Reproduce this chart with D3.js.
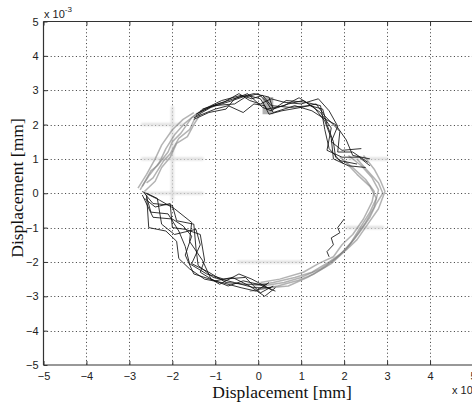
<!DOCTYPE html>
<html>
<head>
<meta charset="utf-8">
<script src="https://cdn.jsdelivr.net/npm/d3@7"></script>
<style>
  body { margin: 0; background: #fff; }
  svg { display: block; }
</style>
</head>
<body>
<svg id="chart" width="472" height="404"></svg>
<script>
// Tick values (axis units are 10^-3 mm)
const xTicks = [-5, -4, -3, -2, -1, 0, 1, 2, 3, 4, 5];
const yTicks = [-5, -4, -3, -2, -1, 0, 1, 2, 3, 4, 5];
const xLabel = "Displacement [mm]";
const yLabel = "Displacement [mm]";
const exponent = "-3";

// Upper arc of the orbit, recorded runs (black)
const upperTraces = [
  [[-1.45,2.25],[-1.1,2.5],[-0.6,2.7],[-0.25,2.85],[0.05,2.75],[0.2,2.45],[0.6,2.55],[0.95,2.78],[1.3,2.5],[1.55,2.1],[1.7,1.6],[1.75,1.0],[2.1,0.8],[2.5,0.75]],
  [[-1.4,2.35],[-0.95,2.6],[-0.5,2.78],[-0.1,2.9],[0.25,2.8],[0.35,2.45],[0.7,2.6],[1.05,2.7],[1.45,2.35],[1.7,1.9],[1.6,1.25],[1.95,1.05],[2.35,1.05],[2.6,0.8]],
  [[-1.5,2.2],[-1.0,2.45],[-0.7,2.55],[-0.35,2.35],[-0.1,2.6],[0.15,2.55],[0.25,2.3],[0.55,2.4],[1.0,2.5],[1.35,2.6],[1.55,2.25],[1.9,1.8],[1.85,1.2],[2.2,1.2],[2.55,0.9]],
  [[-1.35,2.4],[-0.85,2.7],[-0.4,2.85],[-0.15,2.75],[0.1,2.85],[0.3,2.55],[0.75,2.5],[1.2,2.55],[1.5,2.45],[1.6,2.0],[1.75,1.5],[1.8,1.05],[2.0,0.85]],
  [[-1.45,2.3],[-1.05,2.55],[-0.55,2.6],[-0.3,2.8],[0.0,2.9],[0.2,2.65],[0.35,2.35],[0.85,2.55],[1.25,2.4],[1.5,2.2],[1.8,2.0],[2.05,1.55],[2.2,1.1],[2.6,1.0]],
  [[-1.3,2.45],[-0.8,2.65],[-0.45,2.9],[-0.2,2.7],[0.05,2.6],[0.3,2.75],[0.6,2.65],[1.0,2.6],[1.4,2.75],[1.65,2.4],[1.85,1.95],[1.7,1.5],[1.95,1.25],[2.4,1.3]],
  [[-1.5,2.15],[-1.15,2.35],[-0.75,2.45],[-0.55,2.75],[-0.25,2.9],[0.1,2.5],[0.3,2.4],[0.65,2.7],[1.1,2.65],[1.45,2.55],[1.55,1.85],[1.65,1.3],[1.9,0.95],[2.3,0.85]]
];

// Lower-left arc of the orbit, recorded runs (black)
const lowerTraces = [
  [[-2.65,0.0],[-2.45,-0.3],[-2.0,-0.35],[-1.9,-0.8],[-1.5,-0.9],[-1.45,-1.6],[-1.4,-2.1],[-1.05,-2.45],[-0.55,-2.6],[-0.1,-2.75],[0.3,-2.75]],
  [[-2.6,-0.1],[-2.5,-0.55],[-2.1,-0.6],[-1.85,-1.1],[-1.7,-1.55],[-1.6,-2.05],[-1.2,-2.35],[-0.8,-2.5],[-0.3,-2.45],[0.05,-2.9],[0.35,-2.7]],
  [[-2.7,0.05],[-2.3,-0.2],[-1.95,-0.45],[-1.55,-0.85],[-1.6,-1.4],[-1.3,-1.95],[-1.1,-2.5],[-0.7,-2.7],[-0.35,-2.55],[0.0,-2.65],[0.4,-2.85]],
  [[-2.6,-0.05],[-2.55,-1.0],[-2.15,-1.1],[-1.9,-1.4],[-1.85,-1.9],[-1.6,-2.2],[-1.25,-2.5],[-0.85,-2.6],[-0.4,-2.75],[-0.05,-2.85],[0.25,-2.6]],
  [[-2.65,-0.15],[-2.4,-0.4],[-2.05,-0.3],[-2.0,-1.0],[-1.7,-1.05],[-1.35,-1.2],[-1.25,-1.95],[-1.35,-2.3],[-0.9,-2.65],[-0.45,-2.35],[-0.15,-2.5],[0.3,-2.8]],
  [[-2.7,-0.05],[-2.45,-0.7],[-2.0,-0.75],[-1.75,-0.95],[-1.55,-1.25],[-1.7,-1.8],[-1.5,-2.35],[-1.0,-2.55],[-0.6,-2.45],[-0.2,-2.7],[0.15,-3.0],[0.4,-2.75]],
  [[-2.6,0.0],[-2.35,-0.15],[-2.25,-0.9],[-1.95,-1.2],[-1.45,-1.05],[-1.35,-1.5],[-1.55,-2.05],[-1.15,-2.3],[-0.75,-2.6],[-0.3,-2.65],[0.2,-2.65]],
  [[2.0,-0.75],[1.85,-1.0],[1.9,-1.15],[1.7,-1.3],[1.75,-1.5],[1.6,-1.7],[1.65,-1.85]]
];

// Upper-left arc, reference runs (grey)
const leftTraces = [
  [[-2.7,0.2],[-2.55,0.5],[-2.3,0.9],[-2.15,1.3],[-1.95,1.7],[-1.7,2.05],[-1.4,2.35]],
  [[-2.75,0.1],[-2.5,0.65],[-2.35,0.8],[-2.1,1.2],[-2.0,1.5],[-1.8,1.75],[-1.55,2.2],[-1.3,2.4]],
  [[-2.6,0.3],[-2.45,0.45],[-2.2,0.95],[-2.05,1.15],[-1.85,1.6],[-1.6,1.85],[-1.45,2.25]],
  [[-2.8,0.15],[-2.6,0.55],[-2.4,1.0],[-2.25,1.4],[-2.0,1.85],[-1.75,2.15],[-1.5,2.35]],
  [[-2.65,0.05],[-2.4,0.35],[-2.25,0.75],[-2.05,1.05],[-1.9,1.45],[-1.65,1.65],[-1.5,2.0],[-1.35,2.3]]
];

// Right and lower-right arc, reference runs (grey)
const rightTraces = [
  [[2.1,1.1],[2.4,0.8],[2.65,0.45],[2.8,0.1],[2.7,-0.4],[2.5,-0.85],[2.25,-1.3],[2.0,-1.7],[1.7,-2.05],[1.3,-2.35],[0.9,-2.55],[0.45,-2.7],[0.0,-2.8]],
  [[2.3,1.0],[2.55,0.65],[2.8,0.3],[2.9,0.0],[2.75,-0.3],[2.6,-0.7],[2.35,-1.15],[2.1,-1.55],[1.8,-1.9],[1.45,-2.2],[1.0,-2.45],[0.6,-2.6],[0.1,-2.7]],
  [[2.0,0.95],[2.3,0.55],[2.6,0.2],[2.75,-0.15],[2.6,-0.55],[2.4,-0.95],[2.15,-1.45],[1.9,-1.8],[1.55,-2.15],[1.15,-2.45],[0.7,-2.7],[0.25,-2.75],[-0.2,-2.85]],
  [[2.45,1.1],[2.7,0.7],[2.85,0.35],[2.95,0.05],[2.8,-0.45],[2.55,-0.9],[2.3,-1.35],[2.05,-1.65],[1.65,-2.0],[1.25,-2.3],[0.85,-2.45],[0.35,-2.6],[-0.1,-2.7]],
  [[1.9,1.05],[2.2,0.75],[2.5,0.4],[2.7,0.05],[2.65,-0.25],[2.45,-0.75],[2.2,-1.2],[1.95,-1.5],[1.75,-1.85],[1.4,-2.05],[1.05,-2.3],[0.5,-2.5],[0.05,-2.6]]
];

// Faint smeared strokes lying along grid lines: [x1, y1, x2, y2]
const faintSegments = [
  [-2.7, 2, -1.75, 2],
  [-2.7, 1, -1.3, 1],
  [-2.65, 0, -1.3, 0],
  [-0.47, -2, 1.03, -2],
  [2.05, -1, 2.9, -1],
  [2.1, 1, 3.0, 1],
  [-2, -0.2, -2, 2.5]
];

// Small smudged block near the top of the orbit: [x, y, w, h]
const smudge = [0.1, 2.8, 0.25, 0.5];

const svg = d3.select("#chart");
const x = d3.scaleLinear().domain([-5, 5]).range([43.5, 473]);
const y = d3.scaleLinear().domain([-5, 5]).range([365, 21.5]);

const defs = svg.append("defs");
defs.append("filter").attr("id", "soft")
  .attr("x", "-10%").attr("y", "-10%").attr("width", "120%").attr("height", "120%")
  .append("feGaussianBlur").attr("stdDeviation", 0.7);
defs.append("filter").attr("id", "softer")
  .append("feGaussianBlur").attr("stdDeviation", 1.0);

// dotted grid
const inner = xTicks.filter(d => d > -5 && d < 5);
const gridG = svg.append("g").attr("stroke", "#222").attr("stroke-width", 0.9)
  .attr("stroke-dasharray", "1,2.6").attr("fill", "none");
gridG.selectAll("line.v").data(inner).join("line").attr("class", "v")
  .attr("x1", d => Math.round(x(d)) + 0.5).attr("x2", d => Math.round(x(d)) + 0.5)
  .attr("y1", y(5)).attr("y2", y(-5));
gridG.selectAll("line.h").data(yTicks.filter(d => d > -5 && d < 5)).join("line").attr("class", "h")
  .attr("y1", d => Math.round(y(d)) + 0.5).attr("y2", d => Math.round(y(d)) + 0.5)
  .attr("x1", x(-5)).attr("x2", x(5));

// faint smears
svg.append("g").attr("filter", "url(#softer)")
  .selectAll("line").data(faintSegments).join("line")
  .attr("x1", d => x(d[0])).attr("y1", d => y(d[1]))
  .attr("x2", d => x(d[2])).attr("y2", d => y(d[3]))
  .attr("stroke", "#dcdcdc").attr("stroke-width", 2.6).attr("stroke-linecap", "round");

svg.append("rect").attr("filter", "url(#soft)")
  .attr("x", x(smudge[0])).attr("y", y(smudge[1]))
  .attr("width", x(smudge[0] + smudge[2]) - x(smudge[0]))
  .attr("height", y(smudge[1] - smudge[3]) - y(smudge[1]))
  .attr("fill", "#999").attr("opacity", 0.75);

const line = d3.line().x(d => x(d[0])).y(d => y(d[1]));

// grey runs
svg.append("g").attr("filter", "url(#soft)")
  .selectAll("path").data(leftTraces.concat(rightTraces)).join("path")
  .attr("d", line).attr("fill", "none")
  .attr("stroke", "#808080").attr("stroke-width", 1.5)
  .attr("stroke-opacity", 0.6).attr("stroke-linejoin", "round");

// black runs
svg.append("g")
  .selectAll("path").data(upperTraces.concat(lowerTraces)).join("path")
  .attr("d", line).attr("fill", "none")
  .attr("stroke", "#111").attr("stroke-width", 0.85).attr("stroke-linejoin", "miter");

// axes box
const axisColor = "#333";
const box = svg.append("g").attr("stroke", axisColor).attr("stroke-width", 1.2).attr("fill", "none");
box.append("line").attr("x1", x(-5)).attr("x2", x(-5)).attr("y1", y(5)).attr("y2", y(-5));
box.append("line").attr("x1", x(-5)).attr("x2", x(5)).attr("y1", y(5)).attr("y2", y(5));
box.append("line").attr("x1", x(-5)).attr("x2", x(5)).attr("y1", y(-5)).attr("y2", y(-5));
box.append("line").attr("x1", x(5)).attr("x2", x(5)).attr("y1", y(5)).attr("y2", y(-5));

const tickFont = "'Liberation Sans', Arial, sans-serif";

const xAxis = svg.append("g").attr("transform", `translate(0,${y(-5)})`)
  .call(d3.axisBottom(x).tickValues(xTicks).tickSizeInner(-4).tickSizeOuter(0).tickPadding(7));
const xTop = svg.append("g").attr("transform", `translate(0,${y(5)})`)
  .call(d3.axisTop(x).tickValues(xTicks).tickSizeInner(-4).tickSizeOuter(0).tickFormat(""));
const yAxis = svg.append("g").attr("transform", `translate(${x(-5)},0)`)
  .call(d3.axisLeft(y).tickValues(yTicks).tickSizeInner(-4).tickSizeOuter(0).tickPadding(5));

[xAxis, xTop, yAxis].forEach(g => {
  g.select(".domain").remove();
  g.selectAll(".tick line").attr("stroke", axisColor).attr("stroke-width", 1);
  g.selectAll("text").attr("font-family", tickFont).attr("font-size", 11).attr("fill", "#222");
});
xAxis.selectAll(".tick text").attr("dy", "0.71em");

// exponent labels
const expTop = svg.append("text").attr("x", 44).attr("y", 18)
  .attr("font-family", tickFont).attr("font-size", 11).attr("fill", "#222");
expTop.append("tspan").text("x 10");
expTop.append("tspan").attr("dy", -6).attr("font-size", 8).text(exponent);

const expBottom = svg.append("text").attr("x", 452).attr("y", 394)
  .attr("font-family", tickFont).attr("font-size", 11).attr("fill", "#222");
expBottom.append("tspan").text("x 10");
expBottom.append("tspan").attr("dy", -6).attr("font-size", 8).text(exponent);

// axis titles
const titleFont = "'Liberation Serif', 'Times New Roman', serif";
svg.append("text").attr("x", 282).attr("y", 398).attr("text-anchor", "middle")
  .attr("font-family", titleFont).attr("font-size", 17.5).attr("fill", "#111")
  .text(xLabel);
svg.append("text").attr("transform", "translate(23,188) rotate(-90)").attr("text-anchor", "middle")
  .attr("font-family", titleFont).attr("font-size", 17.5).attr("fill", "#111")
  .text(yLabel);
</script>
</body>
</html>
